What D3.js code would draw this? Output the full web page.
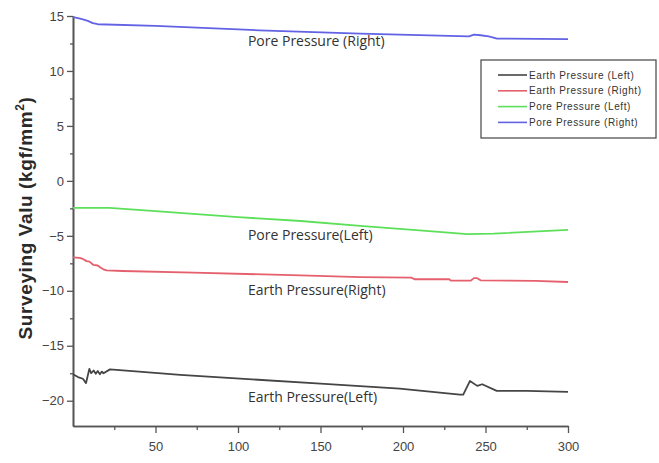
<!DOCTYPE html>
<html>
<head>
<meta charset="utf-8">
<script src="https://cdn.jsdelivr.net/npm/d3@7"></script>
<style>
  body { margin: 0; background: #fff; }
  svg { display: block; }
</style>
</head>
<body>
<svg id="drawing_region"></svg>
<script>
// survey readings: [position, value]
const earthLeft = [
    [0, -17.6], [3, -17.85], [6, -18.0], [7.9, -18.4], [9.9, -17.1], [11, -17.5], [12.5, -17.25],
    [13.8, -17.55], [15, -17.3], [16.3, -17.6], [17.5, -17.35], [18.5, -17.5], [22.4, -17.15],
    [40, -17.35], [65, -17.65], [150, -18.45], [198, -18.9], [234.5, -19.45], [236.5, -19.45],
    [240.6, -18.2], [245, -18.65], [248, -18.5], [256.8, -19.1], [275, -19.1], [300, -19.2]
];
const earthRight = [
    [0, -6.95], [4, -7.0], [6, -7.1], [8.3, -7.3], [10, -7.35], [12.4, -7.65], [15, -7.7],
    [16.4, -7.85], [18.4, -8.05], [20.4, -8.15], [30, -8.2], [73, -8.35], [138, -8.6],
    [174, -8.75], [205, -8.8], [207, -8.95], [228, -8.95], [229, -9.08], [241, -9.08],
    [243, -8.85], [245, -8.85], [247, -9.05], [280, -9.1], [300, -9.2]
];
const poreLeft = [
    [0, -2.45], [22, -2.45], [50, -2.75], [100, -3.3], [138, -3.65], [174, -4.1],
    [210, -4.5], [239, -4.85], [255, -4.8], [300, -4.45]
];
const poreRight = [
    [0, 14.9], [3, 14.8], [6, 14.7], [9, 14.55], [12, 14.35], [15, 14.25], [50, 14.1],
    [113, 13.7], [174, 13.4], [240, 13.15], [243, 13.3], [247, 13.25], [252, 13.15],
    [257, 12.95], [300, 12.9]
];

const seriesNames = ['Earth Pressure (Left)', 'Earth Pressure (Right)', 'Pore Pressure (Left)', 'Pore Pressure (Right)'];
const seriesColors = ['#454545', '#e4606c', '#5ce05a', '#6262e4'];

// labels written next to the curves: [text, x, y]
const curveLabels = [
    ['Pore Pressure (Right)', 106, 12.65],
    ['Pore Pressure(Left)', 106, -5.0],
    ['Earth Pressure(Right)', 106, -10.0],
    ['Earth Pressure(Left)', 106, -19.8]
];

const xTicks = [50, 100, 150, 200, 250, 300];
const xMinor = [25, 75, 125, 175, 225, 275];
const yTicks = [15, 10, 5, 0, -5, -10, -15, -20];
const yMinor = [12.5, 7.5, 2.5, -2.5, -7.5, -12.5, -17.5];

const width = 659, height = 463;
const svg = d3.select('#drawing_region')
    .attr('width', width)
    .attr('height', height);

const xscale = d3.scaleLinear().domain([0, 300]).range([73, 568]);
const yscale = d3.scaleLinear().domain([-22.3, 15]).range([426, 16]);

const axisColor = '#555';

// y axis
svg.append('g')
    .attr('transform', `translate(${xscale(0)},0)`)
    .call(d3.axisLeft(yscale).tickValues(yTicks).tickSize(6).tickSizeOuter(0).tickPadding(3)
        .tickFormat(d3.format('d')));
svg.append('g')
    .attr('transform', `translate(${xscale(0)},0)`)
    .call(d3.axisLeft(yscale).tickValues(yMinor).tickSize(3).tickSizeOuter(0).tickFormat(''));

// x axis
svg.append('g')
    .attr('transform', `translate(0,${yscale(-22.3)})`)
    .call(d3.axisBottom(xscale).tickValues(xTicks).tickSize(7).tickSizeOuter(0).tickPadding(9));
svg.append('g')
    .attr('transform', `translate(0,${yscale(-22.3)})`)
    .call(d3.axisBottom(xscale).tickValues(xMinor).tickSize(4).tickSizeOuter(0).tickFormat(''));

svg.selectAll('.domain').attr('stroke', axisColor).attr('stroke-width', 1.6);
svg.selectAll('.tick line').attr('stroke', axisColor).attr('stroke-width', 1.3);
svg.selectAll('.tick text')
    .attr('fill', '#444')
    .style('font-family', '"Liberation Sans", Arial, sans-serif')
    .style('font-size', '13px');

// axis title
svg.append('text')
    .attr('transform', `translate(32,218) rotate(-90)`)
    .attr('text-anchor', 'middle')
    .attr('fill', '#2a2a2a')
    .style('font-family', '"Liberation Sans", Arial, sans-serif')
    .style('font-size', '19px')
    .style('font-weight', 'bold')
    .style('letter-spacing', '0.6px')
    .html('Surveying Valu (kgf/mm<tspan dy="-8" font-size="12px">2</tspan><tspan dy="8">)</tspan>');

// curves
const line = d3.line().x(d => xscale(d[0])).y(d => yscale(d[1]));
const allSeries = [earthLeft, earthRight, poreLeft, poreRight];
svg.append('g').selectAll('path').data(allSeries).enter()
    .append('path')
    .attr('d', line)
    .attr('fill', 'none')
    .attr('stroke', (d, i) => seriesColors[i])
    .attr('stroke-width', 1.8)
    .attr('stroke-linejoin', 'round');

// curve labels
svg.append('g').selectAll('text').data(curveLabels).enter()
    .append('text')
    .attr('x', d => xscale(d[1]))
    .attr('y', d => yscale(d[2]))
    .attr('dominant-baseline', 'middle')
    .attr('fill', '#333')
    .style('font-family', '"Open Sans", sans-serif')
    .style('font-size', '14px')
    .text(d => d[0]);

// legend
const legend = svg.append('g').attr('transform', 'translate(481,60)');
legend.append('rect')
    .attr('width', 175).attr('height', 78)
    .attr('fill', '#fff').attr('stroke', '#444').attr('stroke-width', 1.2);
const items = legend.selectAll('g.item').data(seriesNames).enter()
    .append('g').attr('class', 'item')
    .attr('transform', (d, i) => `translate(0,${15 + i * 15.8})`);
items.append('line')
    .attr('x1', 17).attr('x2', 46)
    .attr('stroke', (d, i) => seriesColors[i]).attr('stroke-width', 1.6);
items.append('text')
    .attr('x', 48).attr('dy', '0.35em')
    .attr('fill', '#333')
    .style('font-family', '"Liberation Sans", Arial, sans-serif')
    .style('font-size', '10px')
    .style('letter-spacing', '0.6px')
    .text(d => d);
</script>
</body>
</html>
